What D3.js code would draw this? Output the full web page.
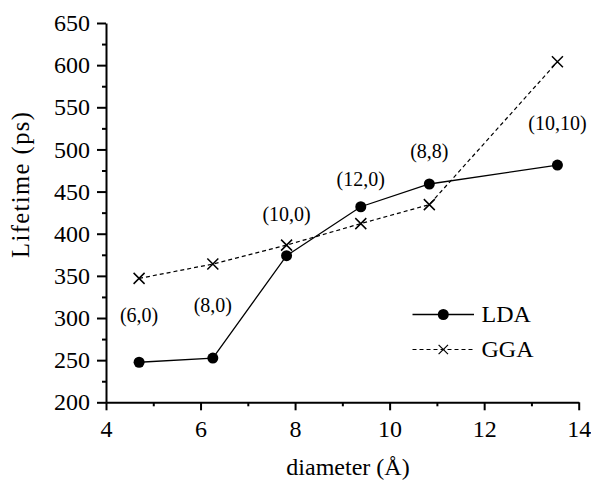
<!DOCTYPE html>
<html>
<head>
<meta charset="utf-8">
<script src="https://cdn.jsdelivr.net/npm/d3@7"></script>
<style>
  html, body { margin: 0; padding: 0; background: #fff; }
  svg text { font-family: "Liberation Serif", "Times New Roman", serif; fill: #000; }
</style>
</head>
<body>
<svg id="chart" width="591" height="480"></svg>
<script>
// Nanotube diameter (Å) and computed lifetimes (ps)
const diameters = [4.70, 6.26, 7.82, 9.39, 10.84, 13.55];
const ldaLifetime = [247.5, 252.5, 374, 432, 459, 481.5];
const ggaLifetime = [347, 364, 386.5, 412, 434.5, 604];

// Chirality annotations and the lifetime level each one sits at
const chirality = ["(6,0)", "(8,0)", "(10,0)", "(12,0)", "(8,8)", "(10,10)"];
const labelLifetime = [294.8, 306.7, 414.6, 456.1, 489.8, 523.4];

const xTicks = [4, 6, 8, 10, 12, 14];
const yTicks = [200, 250, 300, 350, 400, 450, 500, 550, 600, 650];

const FONT = "Liberation Serif, Times New Roman, serif";
const svg = d3.select("#chart");
const plot = { left: 106, right: 578.7, top: 23, bottom: 402.3 };

const x = d3.scaleLinear().domain([4, 14]).range([plot.left, plot.right]);
const y = d3.scaleLinear().domain([200, 650]).range([plot.bottom, plot.top]);

// Minor ticks
const xMinor = d3.range(5, 14, 2);
const yMinor = d3.range(225, 650, 50);

svg.append("g")
  .attr("transform", `translate(0,${plot.bottom})`)
  .call(d3.axisBottom(x).tickValues(xMinor).tickSize(4).tickFormat(""))
  .call(g => g.select(".domain").remove())
  .selectAll("line").attr("stroke-width", 2);

svg.append("g")
  .attr("transform", `translate(${plot.left},0)`)
  .call(d3.axisLeft(y).tickValues(yMinor).tickSize(4).tickFormat(""))
  .call(g => g.select(".domain").remove())
  .selectAll("line").attr("stroke-width", 2);

// Major axes
const xAxis = svg.append("g")
  .attr("transform", `translate(0,${plot.bottom})`)
  .attr("font-family", FONT)
  .attr("font-size", 24)
  .call(d3.axisBottom(x).tickValues(xTicks).tickSize(8).tickSizeOuter(0).tickPadding(10));
xAxis.attr("font-family", FONT).attr("font-size", 24);
xAxis.select(".domain").attr("stroke-width", 2);
xAxis.selectAll(".tick line").attr("stroke-width", 2);

const yAxis = svg.append("g")
  .attr("transform", `translate(${plot.left},0)`)
  .call(d3.axisLeft(y).tickValues(yTicks).tickSize(9).tickSizeOuter(0).tickPadding(7));
yAxis.attr("font-family", FONT).attr("font-size", 24);
yAxis.select(".domain").attr("stroke-width", 2);
yAxis.selectAll(".tick line").attr("stroke-width", 2);

// Axis titles
svg.append("text")
  .attr("x", 348)
  .attr("y", 475)
  .attr("text-anchor", "middle")
  .attr("font-size", 24)
  .text("diameter (Å)");

svg.append("text")
  .attr("transform", "translate(29,185) rotate(-90)")
  .attr("text-anchor", "middle")
  .attr("font-size", 24.5)
  .attr("textLength", 146)
  .attr("lengthAdjust", "spacing")
  .text("Lifetime  (ps)");

// Series
const lda = diameters.map((d, i) => [d, ldaLifetime[i]]);
const gga = diameters.map((d, i) => [d, ggaLifetime[i]]);
const line = d3.line().x(d => x(d[0])).y(d => y(d[1]));

svg.append("path").datum(gga)
  .attr("d", line).attr("fill", "none").attr("stroke", "#000")
  .attr("stroke-width", 1.2).attr("stroke-dasharray", "4,3");

svg.append("path").datum(lda)
  .attr("d", line).attr("fill", "none").attr("stroke", "#000")
  .attr("stroke-width", 1.3);

const crossPath = s => `M${-s},${-s}L${s},${s}M${-s},${s}L${s},${-s}`;

svg.append("g").selectAll("path").data(gga).join("path")
  .attr("transform", d => `translate(${x(d[0])},${y(d[1])})`)
  .attr("d", crossPath(5.5))
  .attr("stroke", "#000").attr("stroke-width", 1.5).attr("fill", "none");

svg.append("g").selectAll("circle").data(lda).join("circle")
  .attr("cx", d => x(d[0])).attr("cy", d => y(d[1]))
  .attr("r", 5.5).attr("fill", "#000");

// Chirality labels
svg.append("g").selectAll("text").data(chirality).join("text")
  .attr("x", (d, i) => x(diameters[i]))
  .attr("y", (d, i) => y(labelLifetime[i]))
  .attr("text-anchor", "middle")
  .attr("font-size", 20)
  .text(d => d);

// Legend
const legend = svg.append("g");
const legendItems = [
  { name: "LDA", y: 314.5, dash: null, marker: "circle" },
  { name: "GGA", y: 349.5, dash: "4,3", marker: "cross" }
];
legendItems.forEach(item => {
  legend.append("line")
    .attr("x1", 412.5).attr("x2", 474).attr("y1", item.y).attr("y2", item.y)
    .attr("stroke", "#000")
    .attr("stroke-width", item.dash ? 1 : 1.5)
    .attr("stroke-dasharray", item.dash);
  if (item.marker === "circle") {
    legend.append("circle").attr("cx", 443.3).attr("cy", item.y).attr("r", 5.5).attr("fill", "#000");
  } else {
    legend.append("path").attr("transform", `translate(443.3,${item.y})`)
      .attr("d", crossPath(4.7)).attr("stroke", "#000").attr("stroke-width", 1.2);
  }
  legend.append("text")
    .attr("x", 481.5).attr("y", item.y + 7.5)
    .attr("font-size", 24)
    .text(item.name);
});
</script>
</body>
</html>
